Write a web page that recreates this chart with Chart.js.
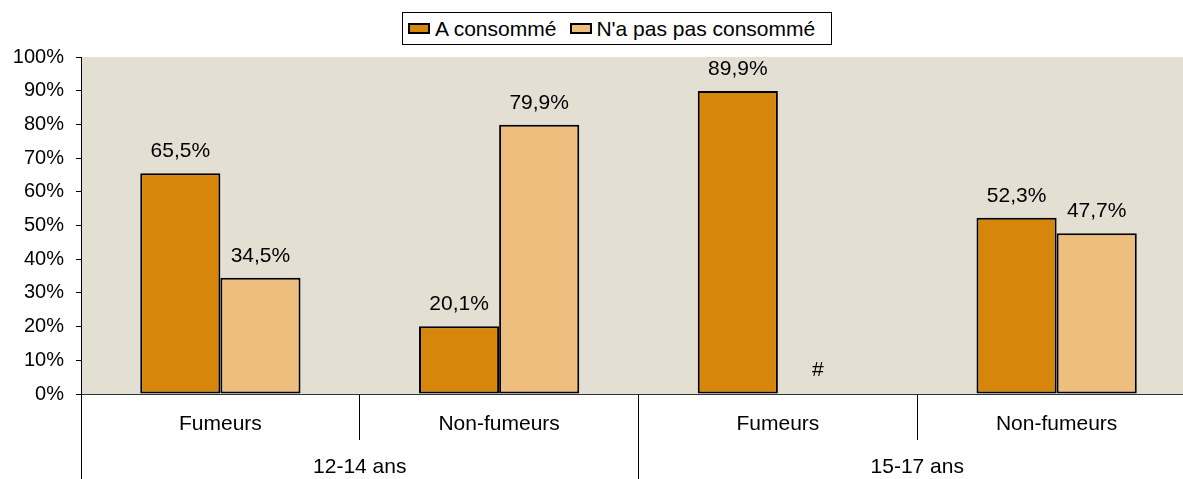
<!DOCTYPE html>
<html>
<head>
<meta charset="utf-8">
<script src="https://cdn.jsdelivr.net/npm/chart.js@4.4.1/dist/chart.umd.min.js"></script>
<style>
    html, body { margin: 0; padding: 0; background: #fff; }
    #wrap { position: relative; width: 1183px; height: 479px; overflow: hidden; }
    #chart { position: absolute; left: 0; top: 0; }
    .legende {
        position: absolute; left: 402px; top: 12px; width: 428px; height: 31px;
        border: 1px solid #000; background: #fff; display: flex; align-items: center;
        font: 21px "Liberation Sans", Arial, sans-serif; color: #000; box-sizing: content-box;
    }
    .legende .carre { width: 18px; height: 7px; border: 2px solid #000; display: inline-block; }
    .legende .item { display: flex; align-items: center; white-space: nowrap; }
</style>
</head>
<body>
<div id="wrap">
    <canvas id="chart" width="1200" height="479"></canvas>
    <div class="legende" id="legende"></div>
</div>
<script>
// valeurs du graphique
var categories = ['Fumeurs', 'Non-fumeurs', 'Fumeurs', 'Non-fumeurs'];
var groupes = ['12-14 ans', '15-17 ans'];
var aConsomme = [65.5, 20.1, 89.9, 52.3];
var pasConsomme = [34.5, 79.9, null, 47.7];
var series = ['A consommé', "N'a pas pas consommé"];
var couleurs = ['#D6860A', '#EDBE7D'];
var fond = '#E4DFD3';

Chart.defaults.font.family = '"Liberation Sans", Arial, sans-serif';
Chart.defaults.font.size = 21;
Chart.defaults.color = '#000';

// légende en HTML
var legende = document.getElementById('legende');
var marges = [[5, 5], [14, 4]];
for (var i = 0; i < series.length; i++) {
    var item = document.createElement('span');
    item.className = 'item';
    item.style.marginLeft = marges[i][0] + 'px';
    var carre = document.createElement('span');
    carre.className = 'carre';
    carre.style.background = couleurs[i];
    carre.style.marginRight = marges[i][1] + 'px';
    item.appendChild(carre);
    item.appendChild(document.createTextNode(series[i]));
    legende.appendChild(item);
}

formatPct = function (v) {
    return v.toFixed(1).replace('.', ',') + '%';
}

// fond beige de la zone de tracé
var fondZone = {
    id: 'fondZone',
    beforeDraw: function (chart) {
        var a = chart.chartArea;
        var ctx = chart.ctx;
        ctx.save();
        ctx.fillStyle = fond;
        ctx.fillRect(a.left, a.top, a.right - a.left, a.bottom - a.top);
        ctx.restore();
    }
};

// étiquettes de valeur au-dessus des barres, "#" si pas de valeur
var etiquettes = {
    id: 'etiquettes',
    afterDatasetsDraw: function (chart) {
        var ctx = chart.ctx;
        var y = chart.scales.y;
        ctx.save();
        ctx.font = '21px "Liberation Sans", Arial, sans-serif';
        ctx.fillStyle = '#000';
        ctx.textAlign = 'center';
        chart.data.datasets.forEach(function (ds, d) {
            var meta = chart.getDatasetMeta(d);
            meta.data.forEach(function (bar, i) {
                var v = ds.data[i];
                if (v === null) {
                    ctx.textBaseline = 'middle';
                    ctx.fillText('#', bar.x, y.getPixelForValue(7));
                } else {
                    ctx.textBaseline = 'alphabetic';
                    ctx.fillText(formatPct(v), bar.x, bar.y - 16);
                }
            });
        });
        ctx.restore();
    }
};

const config = {
    type: 'bar',
    data: {
        labels: categories,
        datasets: [{
            label: series[0],
            data: aConsomme,
            backgroundColor: couleurs[0],
            borderColor: '#000',
            borderWidth: 2,
            borderSkipped: false
        }, {
            label: series[1],
            data: pasConsomme,
            backgroundColor: couleurs[1],
            borderColor: '#000',
            borderWidth: 2,
            borderSkipped: false
        }]
    },
    options: {
        responsive: false,
        animation: false,
        categoryPercentage: 0.575,
        barPercentage: 1.0,
        layout: { padding: { top: 57, right: 4, left: 0, bottom: 0 } },
        plugins: {
            legend: { display: false },
            tooltip: { enabled: false }
        },
        scales: {
            x: {
                weight: 0,
                grid: { offset: true, drawOnChartArea: false, tickLength: 46, color: '#000' },
                border: { color: '#333' },
                ticks: { padding: -28 },
                afterFit: function (s) { s.height = 44; }
            },
            x2: {
                type: 'category',
                labels: groupes,
                position: 'bottom',
                weight: 1,
                grid: { offset: true, drawOnChartArea: false, tickLength: 45, color: '#000' },
                border: { display: false },
                ticks: { padding: -28 },
                afterFit: function (s) { s.height = 41; }
            },
            y: {
                min: 0,
                max: 100,
                ticks: {
                    stepSize: 10,
                    padding: 12,
                    font: { size: 20 },
                    callback: function (v) { return v + '%'; }
                },
                grid: { drawOnChartArea: false, tickLength: 5, color: '#000' },
                border: { color: '#000' },
                afterFit: function (s) { s.width = 81; }
            }
        }
    },
    plugins: [fondZone, etiquettes]
};

new Chart(document.getElementById('chart'), config);
</script>
</body>
</html>
